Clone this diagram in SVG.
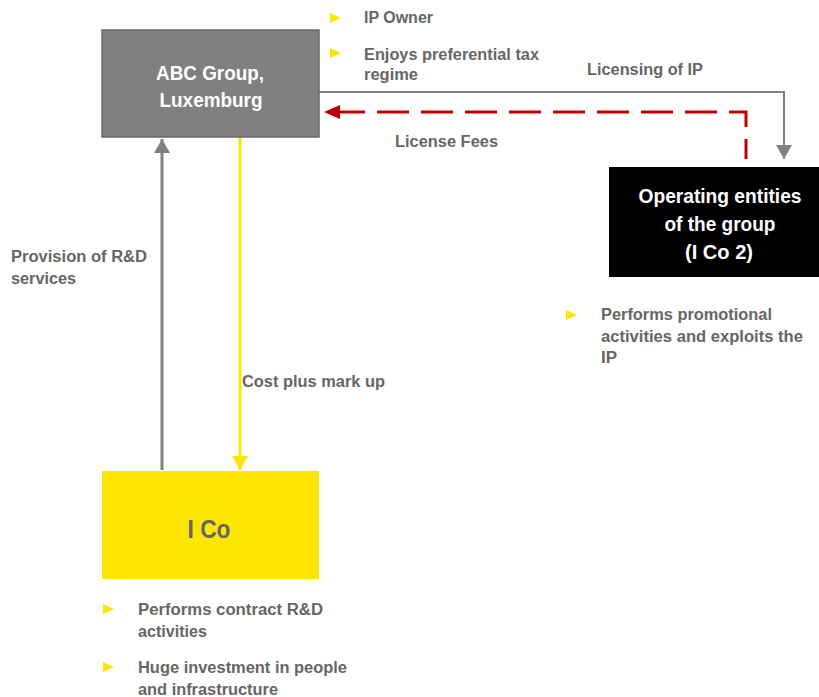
<svg xmlns="http://www.w3.org/2000/svg" width="819" height="697" viewBox="0 0 819 697">
<style>
.t{font-family:"Liberation Sans",Arial,sans-serif;font-weight:bold;font-size:16px;fill:#666666}
.h{font-family:"Liberation Sans",Arial,sans-serif;font-weight:bold;font-size:21px;fill:#ffffff;text-anchor:middle}
.b{fill:#FFE600}
</style>
<defs>
<marker id="ag" markerWidth="16" markerHeight="16" refX="14" refY="8" orient="auto" markerUnits="userSpaceOnUse"><path d="M0,0 L14,8 L0,16 Z" fill="#808080"/></marker>
<marker id="ay" markerWidth="16" markerHeight="16" refX="14" refY="8" orient="auto" markerUnits="userSpaceOnUse"><path d="M0,0 L14,8 L0,16 Z" fill="#FFE600"/></marker>
<marker id="ar" markerWidth="18" markerHeight="16" refX="16" refY="8" orient="auto" markerUnits="userSpaceOnUse"><path d="M0,1 L16,8 L0,15 Z" fill="#C00000"/></marker>
</defs>

<g id="connectors">
<path d="M319,92 H784 V159" fill="none" stroke="#808080" stroke-width="2" marker-end="url(#ag)"/>
<path d="M746,159 V112 H324" fill="none" stroke="#C00000" stroke-width="3" stroke-dasharray="32,12" stroke-dashoffset="12" marker-end="url(#ar)"/>
<path d="M162,470 V139" fill="none" stroke="#808080" stroke-width="3" marker-end="url(#ag)"/>
<path d="M240,137 V470" fill="none" stroke="#FFE600" stroke-width="3" marker-end="url(#ay)"/>
<text class="t" x="587" y="75" textLength="116" lengthAdjust="spacingAndGlyphs">Licensing of IP</text>
<text class="t" x="395" y="147" textLength="103" lengthAdjust="spacingAndGlyphs">License Fees</text>
<text class="t" x="11" y="262" textLength="136" lengthAdjust="spacingAndGlyphs">Provision  of R&amp;D</text>
<text class="t" x="11" y="284" textLength="65" lengthAdjust="spacingAndGlyphs">services</text>
<text class="t" x="242" y="387" textLength="143" lengthAdjust="spacingAndGlyphs">Cost plus mark up</text>
</g>

<g id="abc">
<rect x="102" y="30" width="217" height="107" fill="#808080" stroke="#6a6a6a" stroke-width="1.5"/>
<text class="h" x="210" y="80" textLength="108" lengthAdjust="spacingAndGlyphs">ABC Group,</text>
<text class="h" x="211" y="107" textLength="103" lengthAdjust="spacingAndGlyphs">Luxemburg</text>
<path class="b" d="M330,13 L341,18 L330,23 Z"/>
<text class="t" x="364" y="23" textLength="69" lengthAdjust="spacingAndGlyphs">IP Owner</text>
<path class="b" d="M330,48 L341,53 L330,58 Z"/>
<text class="t" x="364" y="60" textLength="175" lengthAdjust="spacingAndGlyphs">Enjoys preferential tax</text>
<text class="t" x="364" y="80" textLength="54" lengthAdjust="spacingAndGlyphs">regime</text>
</g>

<g id="operating">
<rect x="609" y="167" width="210" height="110" fill="#000000"/>
<text class="h" x="720" y="203" textLength="163" lengthAdjust="spacingAndGlyphs">Operating entities</text>
<text class="h" x="720" y="231" textLength="111" lengthAdjust="spacingAndGlyphs">of the group</text>
<text class="h" x="719" y="259" textLength="68" lengthAdjust="spacingAndGlyphs">(I Co 2)</text>
<path class="b" d="M566,310 L577,315 L566,320 Z"/>
<text class="t" x="601" y="320" textLength="171" lengthAdjust="spacingAndGlyphs">Performs promotional</text>
<text class="t" x="601" y="342" textLength="202" lengthAdjust="spacingAndGlyphs">activities and exploits  the</text>
<text class="t" x="601" y="363" textLength="16" lengthAdjust="spacingAndGlyphs">IP</text>
</g>

<g id="ico">
<rect x="102" y="471" width="217" height="108" fill="#FFE600"/>
<text x="209" y="538" font-family="Liberation Sans, Arial, sans-serif" font-weight="bold" font-size="26" fill="#666666" text-anchor="middle" textLength="43" lengthAdjust="spacingAndGlyphs">I Co</text>
<path class="b" d="M103,604 L114,609 L103,614 Z"/>
<text class="t" x="138" y="615" textLength="185" lengthAdjust="spacingAndGlyphs">Performs contract R&amp;D</text>
<text class="t" x="138" y="637" textLength="69" lengthAdjust="spacingAndGlyphs">activities</text>
<path class="b" d="M103,662 L114,667 L103,672 Z"/>
<text class="t" x="138" y="673" textLength="209" lengthAdjust="spacingAndGlyphs">Huge investment in people</text>
<text class="t" x="138" y="695" textLength="140" lengthAdjust="spacingAndGlyphs">and infrastructure</text>
</g>
</svg>
